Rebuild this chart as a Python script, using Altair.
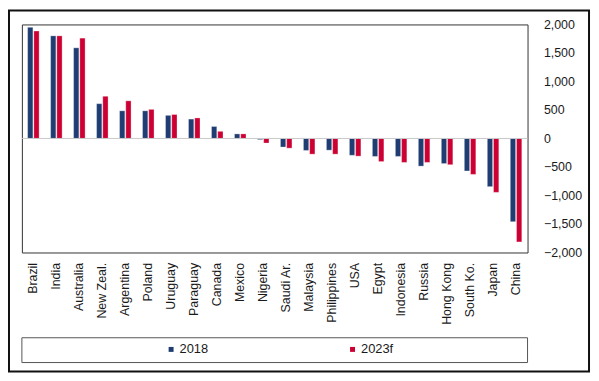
import altair as alt
import pandas as pd

countries = ["Brazil", "India", "Australia", "New Zeal.", "Argentina", "Poland",
             "Uruguay", "Paraguay", "Canada", "Mexico", "Nigeria", "Saudi Ar.",
             "Malaysia", "Philippines", "USA", "Egypt", "Indonesia", "Russia",
             "Hong Kong", "South Ko.", "Japan", "China"]
series = ["2018", "2023f"]
v2018 = [1950, 1800, 1590, 610, 485, 485, 405, 340, 210, 80, -20, -150,
         -210, -205, -295, -315, -315, -485, -440, -570, -845, -1460]
v2023f = [1885, 1800, 1760, 740, 660, 510, 420, 360, 125, 80, -80, -170,
          -275, -275, -310, -405, -420, -420, -460, -630, -945, -1815]
y_ticks = [-2000, -1500, -1000, -500, 0, 500, 1000, 1500, 2000]
colors = ["#1f3d73", "#cc0033"]

rows = []
for c, a, b in zip(countries, v2018, v2023f):
    rows.append({"country": c, "series": series[0], "value": a})
    rows.append({"country": c, "series": series[1], "value": b})
df = pd.DataFrame(rows)

font = "Liberation Sans"
W, H = 510, 230

x = alt.X("country:N", sort=countries, title=None,
          scale=alt.Scale(paddingInner=0.5, paddingOuter=0.25),
          axis=alt.Axis(labelAngle=-90, ticks=False, domain=False, labelPadding=10,
                        labelFontSize=12.5, labelColor="#1a1a1a", labelFont=font))
y = alt.Y("value:Q", title=None,
          scale=alt.Scale(domain=[-2000, 2000], nice=False),
          axis=alt.Axis(orient="right", values=y_ticks, format=",.0f", ticks=False,
                        domain=False, grid=False, labelPadding=16,
                        labelFontSize=12.5, labelColor="#1a1a1a", labelFont=font))

bars = alt.Chart(df).mark_bar(stroke="white", strokeWidth=0.3).encode(
    x=x,
    y=y,
    xOffset=alt.XOffset("series:N", sort=series, scale=alt.Scale(paddingInner=0.15)),
    color=alt.Color("series:N", sort=series,
                    scale=alt.Scale(domain=series, range=colors),
                    legend=alt.Legend(title=None, orient="none", legendX=144, legendY=321,
                                      direction="horizontal", symbolType="square",
                                      symbolSize=25, symbolStrokeWidth=0,
                                      labelFontSize=13, labelFont=font,
                                      labelColor="#1a1a1a", columnPadding=139,
                                      labelOffset=2, padding=0)),
)

zero = alt.Chart(pd.DataFrame({"value": [0]})).mark_rule(color="#c8c8c8", strokeWidth=1).encode(
    y=y
)

one = pd.DataFrame({"a": [0]})
legend_box = alt.Chart(one).mark_rect(filled=False, stroke="#555555", strokeWidth=1).encode(
    x=alt.value(0), x2=alt.value(W), y=alt.value(316), y2=alt.value(341)
)
frame = alt.Chart(one).mark_rect(filled=False, stroke="#111111", strokeWidth=2).encode(
    x=alt.value(-13), x2=alt.value(572), y=alt.value(-14), y2=alt.value(350)
)

chart = alt.layer(bars, zero, legend_box, frame).properties(
    width=W, height=H,
    autosize=alt.AutoSizeParams(type="none"),
    padding={"left": 14, "top": 15, "right": 64, "bottom": 125},
    background="white",
).configure_view(stroke="#333333", strokeWidth=1)

chart.save("out.html", embed_options={"renderer": "svg", "actions": False})
